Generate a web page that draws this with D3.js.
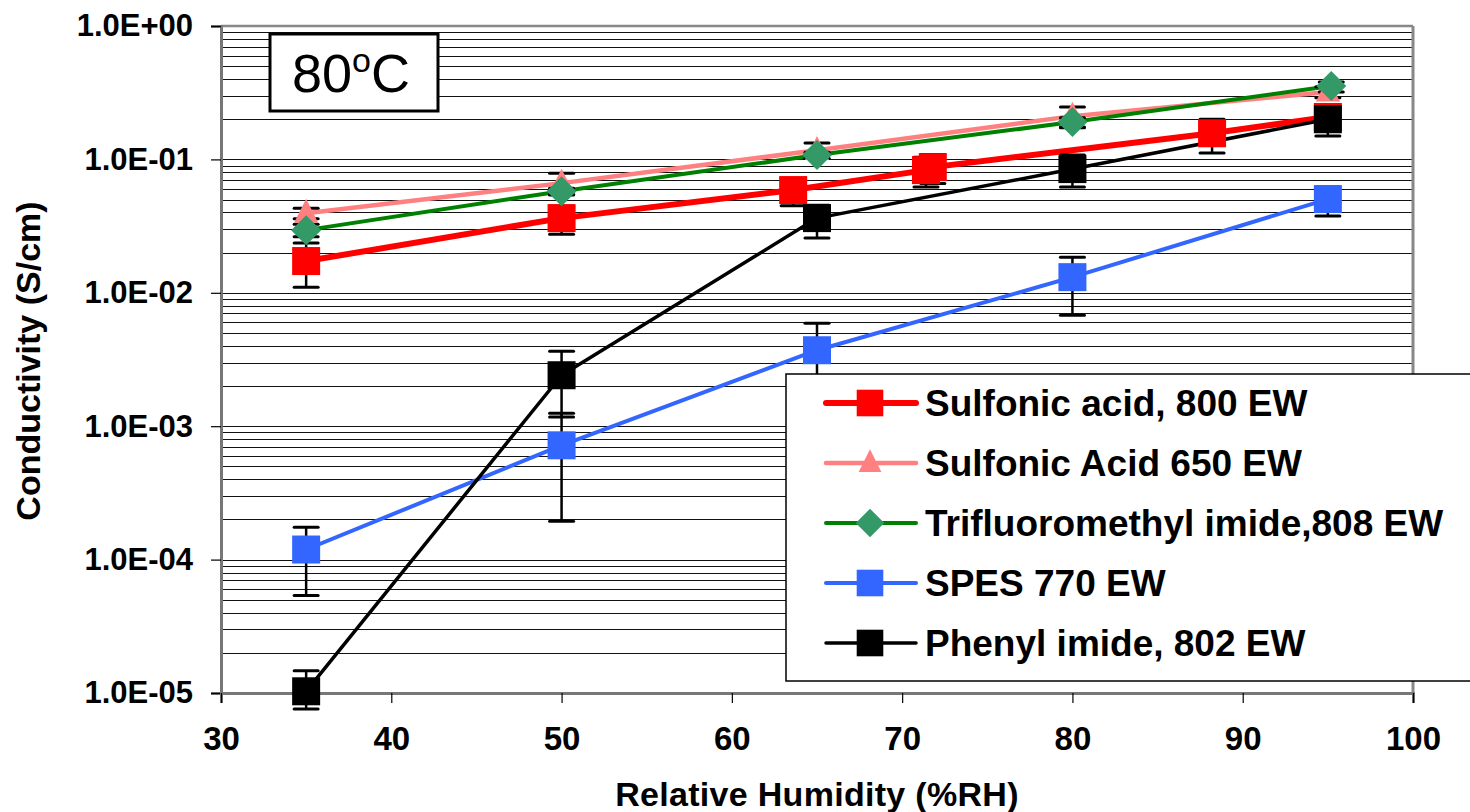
<!DOCTYPE html>
<html>
<head>
<meta charset="utf-8">
<script src="https://cdn.jsdelivr.net/npm/d3@7"></script>
<style>
  html, body { margin: 0; padding: 0; background: #fff; }
  svg { display: block; font-family: "Liberation Sans", Arial, sans-serif; }
</style>
</head>
<body>
<svg id="chart" width="1470" height="812"></svg>
<script>
// ---------------- DATA ----------------
const seriesNames = ["Sulfonic acid, 800 EW", "Sulfonic Acid 650 EW", "Trifluoromethyl imide,808 EW", "SPES 770 EW", "Phenyl imide, 802 EW"];
const xTickValues = [30, 40, 50, 60, 70, 80, 90, 100];
const yTickValues = [1e-5, 1e-4, 1e-3, 1e-2, 1e-1, 1];
const yTickLabels = ["1.0E-05", "1.0E-04", "1.0E-03", "1.0E-02", "1.0E-01", "1.0E+00"];
const xTitle = "Relative Humidity (%RH)";
const yTitle = "Conductivity (S/cm)";

// Sulfonic acid, 800 EW
const sa800X  = [35, 50, 63.6, 71.4, 71.8, 88.2, 95];
const sa800Y  = [0.0173, 0.0363, 0.0589, 0.0831, 0.0875, 0.157, 0.208];
const sa800Lo = [0.0110, 0.0275, 0.045, 0.062, 0.066, 0.1115, 0.165];
const sa800Hi = [0.0236, 0.0446, 0.072, 0.104, 0.109, 0.200, 0.242];
// Sulfonic Acid 650 EW
const sa650X  = [35, 50, 65, 80, 95];
const sa650Y  = [0.0395, 0.0664, 0.117, 0.211, 0.32];
const sa650Lo = [0.0359, 0.054, 0.1015, 0.173, 0.29];
const sa650Hi = [0.0431, 0.0789, 0.1325, 0.247, 0.35];
// Trifluoromethyl imide, 808 EW
const tfX  = [35, 50, 65, 80, 95.2];
const tfY  = [0.0295, 0.0578, 0.1077, 0.1905, 0.355];
const tfLo = [0.0263, 0.0548, 0.102, 0.175, 0.32];
const tfHi = [0.0327, 0.0608, 0.113, 0.205, 0.38];
// SPES 770 EW
const spesX  = [35, 50, 65, 80, 95];
const spesY  = [1.19e-4, 7.19e-4, 0.00371, 0.0131, 0.0504];
const spesLo = [5.39e-5, 1.94e-4, 0.0015, 0.0068, 0.0376];
const spesHi = [1.75e-4, 0.00125, 0.00591, 0.0185, 0.062];
// Phenyl imide, 802 EW
const phX  = [35, 50, 65, 80, 95];
const phY  = [1.03e-5, 0.00241, 0.0363, 0.0846, 0.200];
const phLo = [7.6e-6, 0.00117, 0.0257, 0.062, 0.150];
const phHi = [1.47e-5, 0.00365, 0.0453, 0.108, 0.242];

const titleMain = "80";
const titleSup = "o";
const titleEnd = "C";

// ---------------- STYLES ----------------
const styles = [
  { color: "#FF0000", fill: "#FF0000", width: 6,   marker: "square" },
  { color: "#FF8080", fill: "#FF8080", width: 4.5, marker: "triangle" },
  { color: "#008000", fill: "#339966", width: 4,   marker: "diamond" },
  { color: "#3366FF", fill: "#3366FF", width: 4,   marker: "square" },
  { color: "#000000", fill: "#000000", width: 3.5, marker: "square" }
];

function build(xs, ys, lo, hi) {
  return xs.map((x, i) => ({ x: x, y: ys[i], lo: lo[i], hi: hi[i] }));
}
const series = [
  build(sa800X, sa800Y, sa800Lo, sa800Hi),
  build(sa650X, sa650Y, sa650Lo, sa650Hi),
  build(tfX, tfY, tfLo, tfHi),
  build(spesX, spesY, spesLo, spesHi),
  build(phX, phY, phLo, phHi)
].map((pts, i) => ({ name: seriesNames[i], pts: pts, style: styles[i] }));

// ---------------- LAYOUT ----------------
const L = 221, R = 1413, T = 26, B = 693;
const svg = d3.select("#chart");
const x = d3.scaleLinear().domain([30, 100]).range([L, R]);
const y = d3.scaleLog().domain([1e-5, 1]).range([B, T]);

// gridlines (major + minor)
const gridVals = [];
for (let e = -5; e < 0; e++) {
  for (let m = 1; m <= 9; m++) gridVals.push(m * Math.pow(10, e));
}
gridVals.push(1);
svg.append("g").selectAll("line").data(gridVals).join("line")
  .attr("x1", L).attr("x2", R)
  .attr("y1", d => Math.round(y(d)) + 0.5).attr("y2", d => Math.round(y(d)) + 0.5)
  .attr("stroke", "#111").attr("stroke-width", 1);

// plot frame (top and right)
svg.append("line").attr("x1", L).attr("x2", R).attr("y1", T).attr("y2", T)
  .attr("stroke", "#888").attr("stroke-width", 2.5);
svg.append("line").attr("x1", R).attr("x2", R).attr("y1", T).attr("y2", B)
  .attr("stroke", "#888").attr("stroke-width", 3);

// axes
const yAxis = d3.axisLeft(y).tickValues(yTickValues).tickFormat((d, i) => yTickLabels[i]).tickSize(10).tickPadding(18);
const gy = svg.append("g").attr("transform", `translate(${L},0)`).call(yAxis);
gy.select(".domain").attr("stroke", "#777").attr("stroke-width", 3);
gy.selectAll(".tick line").attr("stroke", "#000").attr("stroke-width", 1.2);
gy.selectAll(".tick text").attr("font-size", 31).attr("font-weight", "bold").attr("fill", "#000")
  .attr("font-family", "'Liberation Sans', Arial, sans-serif");

const xAxis = d3.axisBottom(x).tickValues(xTickValues).tickFormat(d3.format("d")).tickSize(10).tickPadding(24);
const gx = svg.append("g").attr("transform", `translate(0,${B})`).call(xAxis);
gx.select(".domain").attr("stroke", "#777").attr("stroke-width", 3);
gx.selectAll(".tick line").attr("stroke", "#000").attr("stroke-width", 1.2);
gx.selectAll(".tick text").attr("font-size", 33).attr("font-weight", "bold").attr("fill", "#000")
  .attr("font-family", "'Liberation Sans', Arial, sans-serif");

// axis titles
svg.append("text").attr("x", 817).attr("y", 806).attr("text-anchor", "middle")
  .attr("font-size", 34).attr("font-weight", "bold").attr("letter-spacing", 0.3).text(xTitle);
svg.append("text").attr("transform", "translate(40,361) rotate(-90)").attr("text-anchor", "middle")
  .attr("font-size", 34).attr("font-weight", "bold").text(yTitle);

// lines
const lineGen = d3.line().x(d => x(d.x)).y(d => y(d.y));
svg.append("g").selectAll("path").data(series).join("path")
  .attr("d", s => lineGen(s.pts))
  .attr("fill", "none")
  .attr("stroke", s => s.style.color)
  .attr("stroke-width", s => s.style.width)
  .attr("stroke-linejoin", "round");

// error bars
const capW = 12;
const eb = svg.append("g").attr("stroke", "#000").attr("stroke-width", 3);
series.forEach(s => {
  s.pts.forEach(p => {
    const cx = x(p.x);
    eb.append("line").attr("x1", cx).attr("x2", cx).attr("y1", y(p.lo)).attr("y2", y(p.hi)).attr("stroke-width", 2.5);
    eb.append("line").attr("x1", cx - capW).attr("x2", cx + capW).attr("y1", y(p.lo)).attr("y2", y(p.lo)).attr("stroke-linecap", "round");
    eb.append("line").attr("x1", cx - capW).attr("x2", cx + capW).attr("y1", y(p.hi)).attr("y2", y(p.hi)).attr("stroke-linecap", "round");
  });
});

// markers
function drawMarker(g, type, cx, cy, fill, scale) {
  const k = scale || 1;
  if (type === "square") {
    const s = 28 * k;
    g.append("rect").attr("x", cx - s / 2).attr("y", cy - s / 2).attr("width", s).attr("height", s).attr("fill", fill);
  } else if (type === "triangle") {
    const w = 24 * k, h = 24 * k;
    g.append("path").attr("d", `M${cx},${cy - h * 0.6}L${cx + w / 2},${cy + h * 0.4}L${cx - w / 2},${cy + h * 0.4}Z`).attr("fill", fill);
  } else if (type === "diamond") {
    const r = 15 * k;
    g.append("path").attr("d", `M${cx},${cy - r}L${cx + r},${cy}L${cx},${cy + r}L${cx - r},${cy}Z`).attr("fill", fill);
  }
}
const mk = svg.append("g");
series.forEach(s => {
  s.pts.forEach(p => drawMarker(mk, s.style.marker, x(p.x), y(p.y), s.style.fill));
});

// title box
const tb = svg.append("g");
tb.append("rect").attr("x", 270).attr("y", 34).attr("width", 168).attr("height", 77)
  .attr("fill", "#fff").attr("stroke", "#000").attr("stroke-width", 3);
const tt = tb.append("text").attr("x", 292).attr("y", 92).attr("font-size", 54).attr("fill", "#000");
tt.append("tspan").text(titleMain);
tt.append("tspan").attr("font-size", 34).attr("dy", -20).text(titleSup);
tt.append("tspan").attr("dy", 20).text(titleEnd);

// legend
const lg = svg.append("g");
lg.append("rect").attr("x", 786).attr("y", 374).attr("width", 720).attr("height", 307)
  .attr("fill", "#fff").attr("stroke", "#000").attr("stroke-width", 1.5);
series.forEach((s, i) => {
  const cy = 403 + i * 60;
  lg.append("line").attr("x1", 826).attr("x2", 916).attr("y1", cy).attr("y2", cy)
    .attr("stroke", s.style.color).attr("stroke-width", s.style.width).attr("stroke-linecap", "round");
  drawMarker(lg, s.style.marker, 870, cy, s.style.fill, 0.95);
  lg.append("text").attr("x", 925).attr("y", cy).attr("dy", "0.36em")
    .attr("font-size", 37).attr("font-weight", "bold").attr("fill", "#000").text(s.name);
});
</script>
</body>
</html>
